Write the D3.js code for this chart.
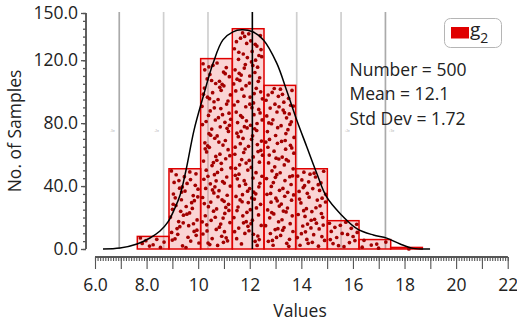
<!DOCTYPE html>
<html><head><meta charset="utf-8">
<script src="https://cdn.jsdelivr.net/npm/d3@7"></script>
<style>
html,body{margin:0;padding:0;background:#fff;}
svg{display:block;font-family:"Open Sans",sans-serif;}
</style></head>
<body>
<svg id="c" width="517" height="323"></svg>
<script>
// ---- data ----
const binStart = 7.64;          // left edge of first bin
const binWidth = 1.228;         // width of each bin
const binCounts = [8, 51, 121, 140, 104, 51, 18, 6, 1];
const curveX = [6.31, 6.97, 7.63, 8.13, 8.52, 8.83, 9.10, 9.30, 9.53, 9.84, 10.19, 10.58, 10.96, 11.35, 11.69, 12.09, 12.53, 13.05, 13.43, 13.82, 14.21, 14.60, 14.98, 15.50, 16.15, 16.79, 17.31, 17.83, 18.34, 18.99];
const curveY = [0, 0.6, 3.2, 7.0, 11.4, 17.2, 26.1, 34.3, 50.2, 75.6, 96.6, 118.2, 132.9, 138.0, 139.3, 138.2, 132.9, 118.0, 100.7, 82.0, 65.0, 48.0, 33.1, 22.6, 13.0, 8.9, 6.9, 3.2, 0.4, 0];
const statNumber = 500, statMean = 12.1, statSd = 1.72;
const sigmaLines = [-3, -2, -1, 1, 2, 3];
const sigmaMarks = [{k:-3,t:"-3σ"},{k:-2,t:"-2σ"},{k:2,t:"+2σ"},{k:3,t:"+3σ"}];
const yMajorTicks = [0, 40, 80, 120, 150];
const yMinorTicks = d3.range(0, 151, 5);
const xMajorTicks = d3.range(6, 23, 1);
const xMinorTicks = d3.range(60, 221, 1).map(d => d / 10);
const xLabelTicks = [6, 8, 10, 12, 14, 16, 18, 20, 22];
const xLabelText = ["6.0", "8.0", "10", "12", "14", "16", "18", "20", "22"];
const legendLabel = "g";
const legendSub = "2";

// ---- layout ----
const svg = d3.select("#c");
const x = d3.scaleLinear().domain([6, 22]).range([95, 507.7]);
const y = d3.scaleLinear().domain([0, 150]).range([249, 13]);
const FS = 17.5;

// grid lines at mean ± k sd
svg.append("g").selectAll("line").data(sigmaLines).join("line")
  .attr("x1", k => x(statMean + k * statSd)).attr("x2", k => x(statMean + k * statSd))
  .attr("y1", y(150) - 1).attr("y2", y(0))
  .attr("stroke", k => Math.abs(k) === 3 ? "#aaaaaa" : "#cfcfcf")
  .attr("stroke-width", 1.7);

svg.append("g").selectAll("text").data(sigmaMarks).join("text")
  .attr("x", d => x(statMean + d.k * statSd) + (d.k < 0 ? -7 : 6))
  .attr("y", 132).attr("text-anchor", "middle")
  .attr("font-size", 3).attr("fill", "#aaa").text(d => d.t);

// bars
const bins = binCounts.map((c, i) => ({i, c, x0: binStart + i * binWidth, x1: binStart + (i + 1) * binWidth}));
svg.append("g").selectAll("rect").data(bins).join("rect")
  .attr("x", d => x(d.x0)).attr("width", d => x(d.x1) - x(d.x0))
  .attr("y", d => y(d.c)).attr("height", d => y(0) - y(d.c))
  .attr("fill", "rgba(228,0,0,0.17)").attr("stroke", "#e00000").attr("stroke-width", 1.5);

// dots: one per sample, spread through each bar with a Halton low-discrepancy layout
function halton(n, b) { let f = 1, r = 0; while (n > 0) { f /= b; r += f * (n % b); n = Math.floor(n / b); } return r; }
const dots = [];
bins.forEach(b => {
  for (let j = 0; j < b.c; j++) {
    const n = j + 1 + 37 * b.i;
    const u = halton(n, 2), v = halton(n, 3);
    dots.push({vx: b.x0 + binWidth * (0.04 + 0.92 * u), vy: b.c * (0.015 + 0.97 * v)});
  }
});
svg.append("g").selectAll("circle").data(dots).join("circle")
  .attr("cx", d => x(d.vx)).attr("cy", d => y(d.vy)).attr("r", 1.85)
  .attr("fill", "#a30000");

// density curve
const line = d3.line().x(d => x(d[0])).y(d => y(d[1])).curve(d3.curveCatmullRom);
svg.append("path").datum(curveX.map((v, i) => [v, curveY[i]]))
  .attr("d", line).attr("fill", "none").attr("stroke", "#000").attr("stroke-width", 1.5);

// mean line
svg.append("line").attr("x1", x(statMean)).attr("x2", x(statMean))
  .attr("y1", y(150) - 1).attr("y2", y(0)).attr("stroke", "#000").attr("stroke-width", 1.6);

// y axis
const yAxisX = 86;
const gyMinor = svg.append("g").attr("transform", `translate(${yAxisX},0)`)
  .call(d3.axisLeft(y).tickValues(yMinorTicks).tickSize(3).tickFormat(""));
const gy = svg.append("g").attr("transform", `translate(${yAxisX},0)`)
  .call(d3.axisLeft(y).tickValues(yMajorTicks).tickSize(5).tickPadding(3).tickFormat(d3.format(".1f")));
[gyMinor, gy].forEach(g => {
  g.select(".domain").attr("stroke", "#555").attr("stroke-width", 1.5).attr("d", `M0,${y(0)}V${y(150)}`);
  g.selectAll(".tick line").attr("stroke", "#555").attr("stroke-width", 1.3);
});
gy.selectAll(".tick text").attr("font-family", "Open Sans").attr("font-size", FS).attr("fill", "#222");

// x axis
const xAxisY = 257;
const gxMinor = svg.append("g").attr("transform", `translate(0,${xAxisY})`)
  .call(d3.axisBottom(x).tickValues(xMinorTicks).tickSize(4).tickFormat(""));
const gxMajor = svg.append("g").attr("transform", `translate(0,${xAxisY})`)
  .call(d3.axisBottom(x).tickValues(xMajorTicks).tickSize(12).tickFormat(""));
const gx = svg.append("g").attr("transform", `translate(0,${xAxisY})`)
  .call(d3.axisBottom(x).tickValues(xLabelTicks).tickSize(0).tickPadding(22)
    .tickFormat((d, i) => xLabelText[i]));
[gxMinor, gxMajor, gx].forEach(g => {
  g.select(".domain").attr("stroke", "#555").attr("stroke-width", 1.5).attr("d", `M${x(6)},0H${x(22)}`);
  g.selectAll(".tick line").attr("stroke", "#555").attr("stroke-width", 1.1);
});
gx.selectAll(".tick text").attr("font-family", "Open Sans").attr("font-size", FS).attr("fill", "#222");

// axis titles
svg.append("text").attr("x", 300).attr("y", 317).attr("text-anchor", "middle")
  .attr("font-size", FS).attr("fill", "#222").text("Values");
svg.append("text").attr("transform", "translate(21,131) rotate(-90)").attr("text-anchor", "middle")
  .attr("font-size", FS).attr("fill", "#222").text("No. of Samples");

// stats
const statLines = [`Number = ${statNumber}`, `Mean = ${statMean}`, `Std Dev = ${statSd}`];
svg.append("g").selectAll("text").data(statLines).join("text")
  .attr("x", 349.5).attr("y", (d, i) => 76 + i * 24.3)
  .attr("font-size", FS).attr("fill", "#222").text(d => d);

// legend
const lg = svg.append("g");
lg.append("rect").attr("x", 444.5).attr("y", 18.5).attr("width", 57).attr("height", 29).attr("rx", 6)
  .attr("fill", "#fff").attr("stroke", "#b5b5b5").attr("stroke-width", 1);
lg.append("rect").attr("x", 451).attr("y", 27).attr("width", 18).attr("height", 11.5).attr("fill", "#e00000");
const lt = lg.append("text").attr("x", 470).attr("y", 36).attr("font-size", 19).attr("fill", "#222");
lt.append("tspan").text(legendLabel);
lt.append("tspan").attr("dy", 7).attr("font-size", 14).text(legendSub);
</script>
</body></html>
